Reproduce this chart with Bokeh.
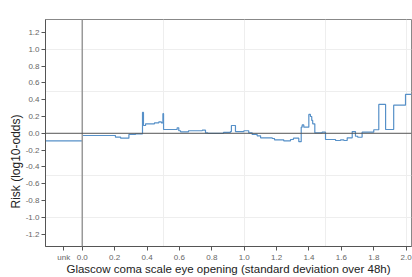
from bokeh.plotting import figure
from bokeh.models import Range1d, FixedTicker, Span, Title
from bokeh.embed import file_html
from bokeh.resources import INLINE

# ---- data ----
x_tick_values = [-0.114, 0.0, 0.2, 0.4, 0.6, 0.8, 1.0, 1.2, 1.4, 1.6, 1.8, 2.0]
x_tick_labels = ["unk", "0.0", "0.2", "0.4", "0.6", "0.8", "1.0", "1.2", "1.4", "1.6", "1.8", "2.0"]
y_tick_values = [-1.2, -1.0, -0.8, -0.6, -0.4, -0.2, 0.0, 0.2, 0.4, 0.6, 0.8, 1.0, 1.2]

unk_x = [-0.227, 0.0]
unk_risk = [-0.09, -0.09]

step_x = [0.000, 0.205, 0.237, 0.288, 0.329, 0.372, 0.378, 0.391, 0.446, 0.473,
          0.488, 0.498, 0.502, 0.586, 0.596, 0.607, 0.656, 0.741, 0.761, 0.775,
          0.833, 0.872, 0.915, 0.921, 0.946, 0.998, 1.028, 1.049, 1.080, 1.101,
          1.173, 1.187, 1.244, 1.286, 1.304, 1.337, 1.352, 1.358, 1.368, 1.399,
          1.409, 1.417, 1.423, 1.436, 1.481, 1.502, 1.564, 1.595, 1.615, 1.636,
          1.667, 1.687, 1.701, 1.728, 1.800, 1.831, 1.873, 1.923, 1.996, 2.033]
step_risk = [-0.026, -0.046, -0.058, -0.014, -0.006, 0.248, 0.093, 0.113, 0.125, 0.137,
             0.125, 0.233, 0.045, 0.066, 0.030, 0.018, 0.030, 0.037, 0.006, -0.002,
             0.000, 0.010, 0.020, 0.093, 0.020, 0.030, 0.006, -0.014, -0.030, -0.054,
             -0.062, -0.078, -0.090, -0.074, -0.058, -0.100, 0.073, 0.100, 0.073, 0.224,
             0.200, 0.153, 0.113, 0.006, 0.013, -0.074, -0.086, -0.078, -0.086, -0.054,
             0.020, -0.035, -0.047, 0.013, 0.042, 0.344, 0.045, 0.335, 0.463, 0.463]

x_grid_values = [0.5, 1.0, 1.5, 2.0]
y_grid_values = [-1.0, -0.5, 0.5, 1.0]

x_label = "Glascow coma scale eye opening (standard deviation over 48h)"
y_label = "Risk (log10-odds)"

p = figure(width=412, height=277, output_backend="svg", toolbar_location=None,
           x_range=Range1d(-0.227, 2.033), y_range=Range1d(-1.347, 1.354),
           min_border_left=45, min_border_right=1, min_border_top=19, min_border_bottom=31)

p.outline_line_color = "#888888"
p.background_fill_color = "white"
p.border_fill_color = "white"

p.xgrid.ticker = FixedTicker(ticks=x_grid_values)
p.ygrid.ticker = FixedTicker(ticks=y_grid_values)
p.xgrid.grid_line_color = "#eeeeee"
p.ygrid.grid_line_color = "#eeeeee"

p.xaxis.ticker = FixedTicker(ticks=x_tick_values)
p.xaxis.major_label_overrides = {v: l for v, l in zip(x_tick_values, x_tick_labels)}
p.yaxis.ticker = FixedTicker(ticks=y_tick_values)
p.yaxis.major_label_overrides = {v: f"{v:.1f}" for v in y_tick_values}

for ax in (p.xaxis, p.yaxis):
    ax.minor_tick_line_color = None
    ax.major_tick_in = 0
    ax.major_tick_out = 4
    ax.major_tick_line_color = "#555555"
    ax.axis_line_color = "#555555"
    ax.major_label_text_font = "Liberation Sans"
    ax.major_label_text_font_size = "8px"
    ax.major_label_text_color = "#666666"
    ax.major_label_standoff = 2

p.add_layout(Title(text=x_label, align="center", standoff=-8,
                   text_font="Liberation Sans", text_font_size="11.5px",
                   text_font_style="normal", text_color="#222222"), "below")
p.add_layout(Title(text=y_label, align="left", offset=38, standoff=0,
                   text_font="Liberation Sans", text_font_size="12px",
                   text_font_style="normal", text_color="#222222"), "left")

p.add_layout(Span(location=0, dimension="height", line_color="#999999", line_width=1.5))
p.add_layout(Span(location=0, dimension="width", line_color="#555555", line_width=1))

p.line(unk_x, unk_risk, line_color="#5690c8", line_width=1.2)
p.step(step_x, step_risk, mode="after", line_color="#5690c8", line_width=1.2)

open("out.html", "w").write(file_html(p, INLINE))
